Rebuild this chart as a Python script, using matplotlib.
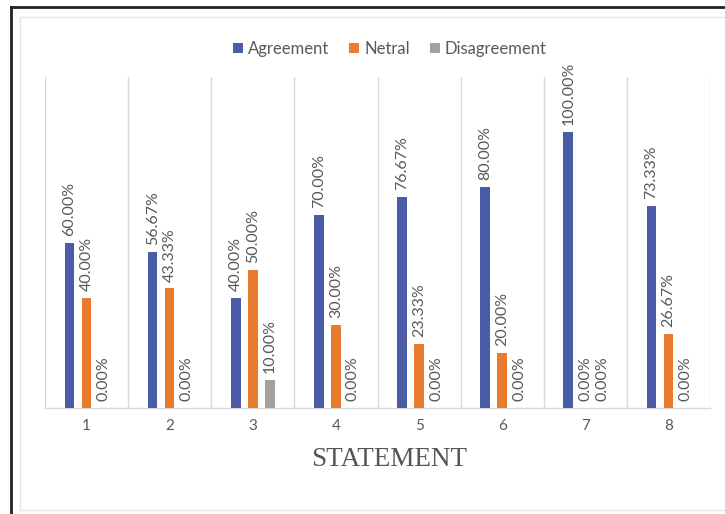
import matplotlib
matplotlib.use("Agg")
import matplotlib.pyplot as plt
from matplotlib.patches import Rectangle
from matplotlib.lines import Line2D
import numpy as np

categories = ["1", "2", "3", "4", "5", "6", "7", "8"]
agreement = [60.00, 56.67, 40.00, 70.00, 76.67, 80.00, 100.00, 73.33]
netral = [40.00, 43.33, 50.00, 30.00, 23.33, 20.00, 0.00, 26.67]
disagreement = [0.00, 0.00, 10.00, 0.00, 0.00, 0.00, 0.00, 0.00]
series_names = ["Agreement", "Netral", "Disagreement"]
colors = ["#4B5CA6", "#E97B2E", "#A6A09C"]

plt.rcParams['font.family'] = ['Lato', 'DejaVu Sans']

fig = plt.figure(figsize=(7.25, 5.14), dpi=100)
W, H = 725, 514
ax = fig.add_axes([45 / W, 1 - 408 / H, (710 - 45) / W, (408 - 77) / H])

x = np.arange(len(categories))
offsets = [-0.205, 0.0, 0.205]
width = 0.115
text_color = "#595959"
for vals, off, col, name in zip([agreement, netral, disagreement], offsets, colors, series_names):
    bars = ax.bar(x + off, vals, width=width, color=col, label=name, zorder=3)
    for xi, v in zip(x + off, vals):
        ax.annotate(f"{v:.2f}%", (xi, v), xytext=(0, 5), textcoords="offset points",
                    rotation=90, ha="center", va="bottom", fontsize=11.5, color=text_color)

ax.set_xlim(-0.5, len(categories) - 0.5)
ax.set_ylim(0, 120)
ax.set_yticks([])
for b in np.arange(-0.5, len(categories), 1.0):
    ax.axvline(b, color="#D9D9D9", lw=1.0, zorder=1)
for s in ["top", "right", "left"]:
    ax.spines[s].set_visible(False)
ax.spines["bottom"].set_color("#D9D9D9")
ax.spines["bottom"].set_linewidth(1.0)
ax.set_xticks(x)
ax.set_xticklabels(categories, fontsize=11, color=text_color)
ax.tick_params(axis="x", length=0, pad=8)
ax.set_xlabel("STATEMENT", fontsize=19.5, color="#555555",
              family=["Liberation Serif", "DejaVu Serif"])
ax.xaxis.set_label_coords((389 - 45) / 665, -(459 - 408) / 331)
ax.xaxis.label.set_va("center")

leg = fig.legend(loc="center", bbox_to_anchor=(390 / W, 1 - 49 / H), ncol=3, frameon=False,
                 fontsize=12, handlelength=0.6, handleheight=0.6, handletextpad=0.3,
                 columnspacing=1.2, labelcolor=text_color)

# frame lines
fig.add_artist(Line2D([11 / W, 11 / W], [0, 1 - 7 / H], color="#222222", lw=2.0, transform=fig.transFigure))
fig.add_artist(Line2D([11 / W, 1], [1 - 7 / H, 1 - 7 / H], color="#222222", lw=2.0, transform=fig.transFigure))
fig.add_artist(Rectangle((20 / W, 1 - 510 / H), (W + 5 - 20) / W, (510 - 17) / H, fill=False,
                         edgecolor="#E6E6E6", lw=1.0, transform=fig.transFigure))

fig.savefig("out.png", dpi=100)
